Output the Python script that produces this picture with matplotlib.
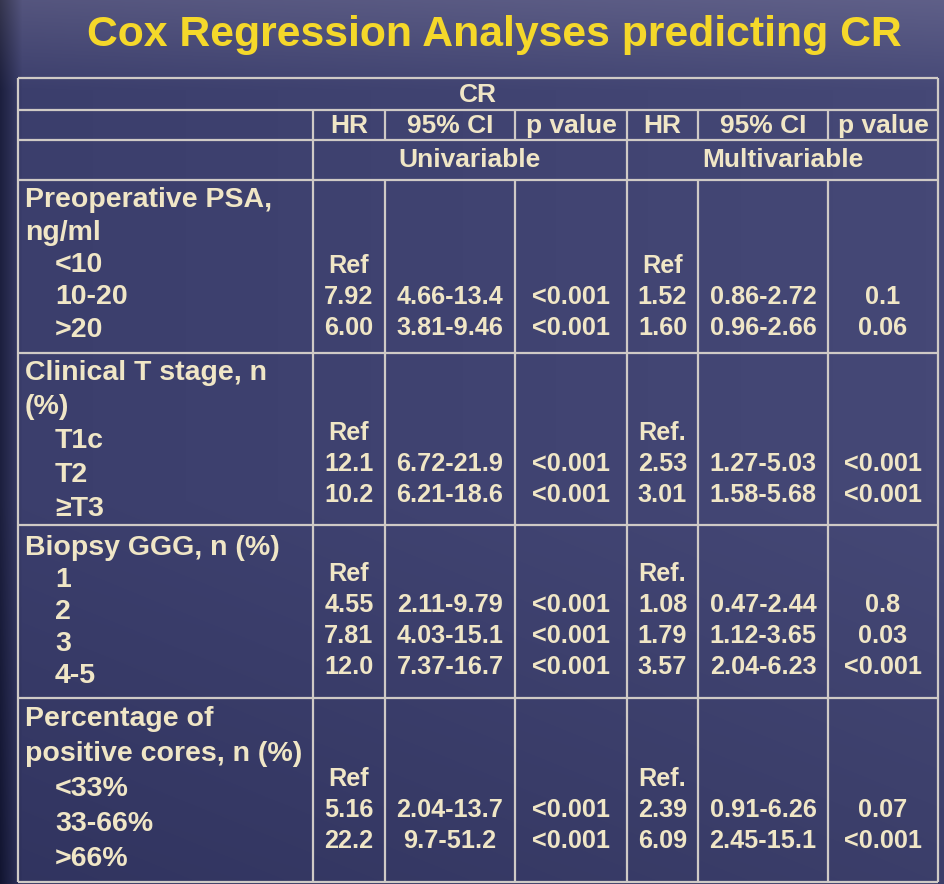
import numpy as np
import matplotlib
matplotlib.use("Agg")
import matplotlib.pyplot as plt

# ---------------- data ----------------
title = "Cox Regression Analyses predicting CR"
outcome = "CR"
col_headers = ["HR", "95% CI", "p value", "HR", "95% CI", "p value"]
model_names = ["Univariable", "Multivariable"]

section_titles = [
    ["Preoperative PSA,", "ng/ml"],
    ["Clinical T stage, n", "(%)"],
    ["Biopsy GGG, n (%)"],
    ["Percentage of", "positive cores, n (%)"],
]
section_levels = [
    ["<10", "10-20", ">20"],
    ["T1c", "T2", "\u2265T3"],
    ["1", "2", "3", "4-5"],
    ["<33%", "33-66%", ">66%"],
]
hr_uni = [
    ["Ref", "7.92", "6.00"],
    ["Ref", "12.1", "10.2"],
    ["Ref", "4.55", "7.81", "12.0"],
    ["Ref", "5.16", "22.2"],
]
ci_uni = [
    ["", "4.66-13.4", "3.81-9.46"],
    ["", "6.72-21.9", "6.21-18.6"],
    ["", "2.11-9.79", "4.03-15.1", "7.37-16.7"],
    ["", "2.04-13.7", "9.7-51.2"],
]
p_uni = [
    ["", "<0.001", "<0.001"],
    ["", "<0.001", "<0.001"],
    ["", "<0.001", "<0.001", "<0.001"],
    ["", "<0.001", "<0.001"],
]
hr_multi = [
    ["Ref", "1.52", "1.60"],
    ["Ref.", "2.53", "3.01"],
    ["Ref.", "1.08", "1.79", "3.57"],
    ["Ref.", "2.39", "6.09"],
]
ci_multi = [
    ["", "0.86-2.72", "0.96-2.66"],
    ["", "1.27-5.03", "1.58-5.68"],
    ["", "0.47-2.44", "1.12-3.65", "2.04-6.23"],
    ["", "0.91-6.26", "2.45-15.1"],
]
p_multi = [
    ["", "0.1", "0.06"],
    ["", "<0.001", "<0.001"],
    ["", "0.8", "0.03", "<0.001"],
    ["", "0.07", "<0.001"],
]

# ---------------- layout / style ----------------
W, H = 944, 884
BG = "#3b3e6c"
TXT = "#f0e6c6"
LINE = "#cfcac6"
TITLE_C = "#f5d82a"
FONT = "Liberation Sans"

col_x = [18, 313, 385, 515, 627, 698, 828, 938]     # column borders
row_hdr = [78, 110, 140, 180]                        # header borders
sec_y = [180, 353, 525, 698, 882]                    # section borders
label_top = [200, 373, 548, 719]
label_step = [32.5, 34.0, 32.0, 35.0]
value_top = [266, 433, 574, 779]
value_step = 31.0

fig = plt.figure(figsize=(W / 100, H / 100), dpi=100)
ax = fig.add_axes([0, 0, 1, 1])
ax.set_xlim(0, W)
ax.set_ylim(H, 0)
ax.axis("off")

# background gradient (photo of a slide)
yy, xx = np.mgrid[0:H, 0:W]
base = np.array(matplotlib.colors.to_rgb(BG))
img = np.ones((H, W, 3)) * base
top_light = np.clip(1 - yy / 90.0, 0, 1)[..., None] * np.array([0.10, 0.09, 0.07])
left_dark = np.clip(1 - xx / 22.0, 0, 1)[..., None] * np.array([-0.12, -0.12, -0.18])
right_light = (xx / W)[..., None] * np.array([0.04, 0.04, 0.04])
bottom_dark = np.clip((yy - 500) / 384.0, 0, 1)[..., None] * np.array([-0.04, -0.04, -0.05])
img = np.clip(img + top_light + left_dark + right_light + bottom_dark, 0, 1)
ax.imshow(img, extent=(0, W, H, 0), aspect="auto", zorder=0)

ax.text(494, 35, title, ha="center", va="center", color=TITLE_C,
        fontsize=30.8, fontweight="bold", family=FONT)

lw = 1.6
def hline(y, x0=col_x[0], x1=col_x[-1]):
    ax.plot([x0, x1], [y, y], color=LINE, lw=lw, solid_capstyle="butt", zorder=2)
def vline(x, y0, y1):
    ax.plot([x, x], [y0, y1], color=LINE, lw=lw, solid_capstyle="butt", zorder=2)

for y in row_hdr + sec_y[1:]:
    hline(y)
vline(col_x[0], row_hdr[0], sec_y[-1])
vline(col_x[-1], row_hdr[0], sec_y[-1])
vline(col_x[1], row_hdr[1], sec_y[-1])
vline(col_x[4], row_hdr[1], sec_y[-1])
for x in [col_x[2], col_x[3], col_x[5], col_x[6]]:
    vline(x, row_hdr[1], row_hdr[2])
    vline(x, row_hdr[3], sec_y[-1])

kw = dict(color=TXT, fontweight="bold", family=FONT, zorder=3)
hs = 19.0
ax.text((col_x[0] + col_x[-1]) / 2, (row_hdr[0] + row_hdr[1]) / 2 + 1, outcome,
        ha="center", va="center", fontsize=hs, **kw)
centers = [(col_x[i] + col_x[i + 1]) / 2 for i in range(1, 7)]
for cx, h in zip(centers, col_headers):
    ax.text(cx, (row_hdr[1] + row_hdr[2]) / 2 + 1, h, ha="center", va="center",
            fontsize=hs, **kw)
ax.text((col_x[1] + col_x[4]) / 2, (row_hdr[2] + row_hdr[3]) / 2, model_names[0],
        ha="center", va="center", fontsize=hs, **kw)
ax.text((col_x[4] + col_x[-1]) / 2, (row_hdr[2] + row_hdr[3]) / 2, model_names[1],
        ha="center", va="center", fontsize=hs, **kw)

ls = 20.5
vs = 18.2
for s in range(len(section_titles)):
    lines = section_titles[s]
    for i, t in enumerate(lines):
        ax.text(25, label_top[s] + i * label_step[s], t, ha="left", va="center",
                fontsize=ls, **kw)
    for j, lev in enumerate(section_levels[s]):
        ax.text(55, label_top[s] + (len(lines) + j) * label_step[s], lev,
                ha="left", va="center", fontsize=ls, **kw)
    cols = [hr_uni[s], ci_uni[s], p_uni[s], hr_multi[s], ci_multi[s], p_multi[s]]
    for c, vals in enumerate(cols):
        for j, v in enumerate(vals):
            if v:
                ax.text(centers[c], value_top[s] + j * value_step, v, ha="center",
                        va="center", fontsize=vs, **kw)

fig.savefig("out.png", dpi=100, facecolor=BG)
